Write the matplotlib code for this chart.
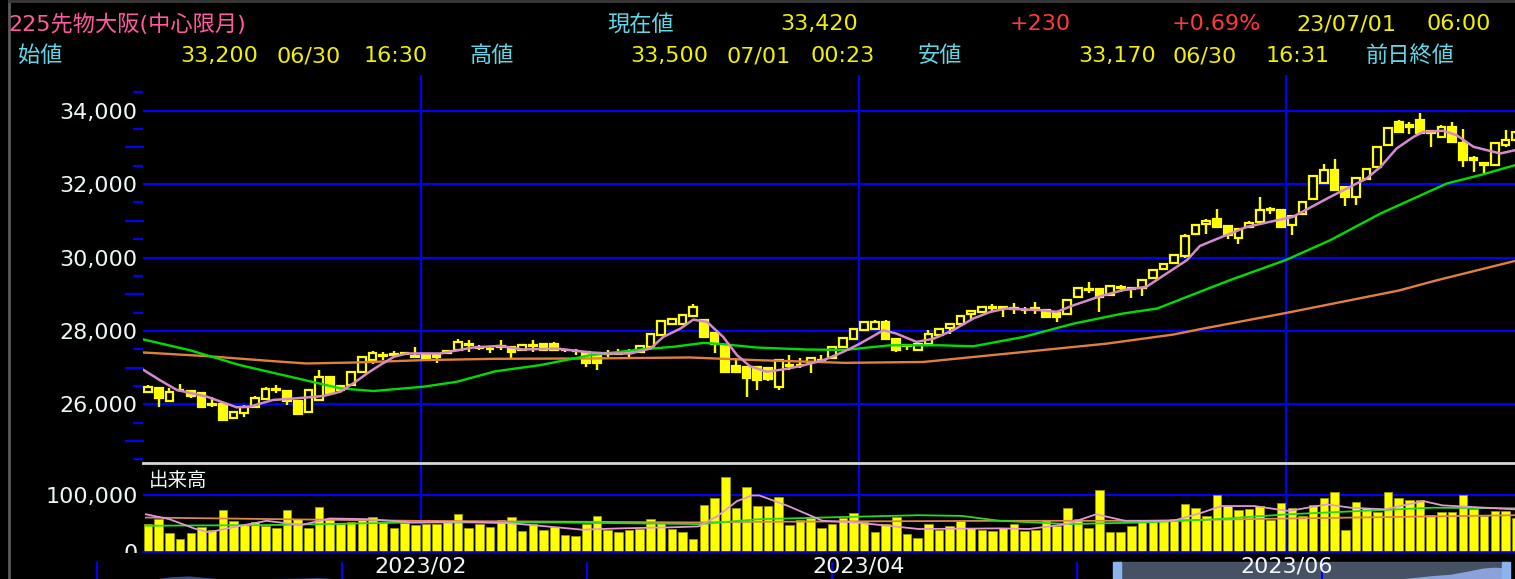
import matplotlib
matplotlib.use("Agg")
import matplotlib.pyplot as plt
import numpy as np
from matplotlib.patches import Rectangle
from matplotlib.ticker import FuncFormatter, MultipleLocator
from matplotlib.transforms import blended_transform_factory

plt.rcParams["font.family"] = ["DejaVu Sans", "Noto Sans CJK JP"]

# daily candles, 2022/12/20 .. 2023/06/30 (bar index 0..128)
opens = [26335, 26434, 26100, 26380, 26362, 26300, 26000, 26000, 25640, 25756,
         25918, 26145, 26400, 26362, 26090, 25783, 26118, 26733, 26510, 26525,
         26887, 27204, 27320, 27350, 27370, 27300, 27380, 27300, 27385, 27475,
         27620, 27560, 27500, 27570, 27570, 27475, 27600, 27650, 27650, 27490,
         27450, 27430, 27385, 27370, 27380, 27400, 27430, 27566, 27880, 28200,
         28200, 28400, 28308, 27946, 27611, 27040, 27022, 27022, 27000, 26480,
         27050, 27060, 27160, 27180, 27250, 27566, 27790, 28018, 28064, 28246,
         27790, 27620, 27490, 27654, 27880, 28090, 28180, 28455, 28520, 28630,
         28620, 28600, 28570, 28600, 28583, 28475, 28455, 28930, 29120, 29130,
         28975, 29170, 29150, 29157, 29430, 29685, 29840, 30040, 30654, 30909,
         31063, 30854, 30545, 30836, 30973, 31300, 31309, 30882, 31200, 31582,
         32018, 32382, 31909, 31654, 32127, 32472, 33063, 33700, 33563, 33745,
         33454, 33290, 33563, 33127, 32650, 32590, 32518, 33060, 33200]
highs = [26525, 26480, 26434, 26543, 26390, 26340, 26210, 26020, 25820, 25980,
         26230, 26460, 26520, 26390, 26100, 26400, 26932, 26750, 26530, 26900,
         27300, 27450, 27420, 27450, 27420, 27550, 27400, 27400, 27460, 27790,
         27750, 27610, 27570, 27750, 27590, 27640, 27750, 27680, 27700, 27520,
         27520, 27450, 27400, 27475, 27520, 27520, 27600, 27950, 28290, 28360,
         28450, 28724, 28335, 27970, 27630, 27250, 27050, 27040, 27020, 27230,
         27340, 27250, 27270, 27340, 27590, 27830, 28090, 28270, 28290, 28290,
         27810, 27654, 27680, 28036, 28090, 28200, 28430, 28583, 28680, 28720,
         28656, 28765, 28656, 28790, 28600, 28490, 28880, 29180, 29340, 29150,
         29250, 29250, 29200, 29400, 29680, 29840, 30090, 30650, 30900, 31060,
         31336, 30880, 30800, 31000, 31654, 31380, 31330, 31150, 31540, 32240,
         32545, 32672, 31930, 32200, 32420, 33040, 33540, 33745, 33700, 33927,
         33480, 33600, 33700, 33490, 32760, 32610, 33130, 33470, 33500]
lows = [26300, 25918, 26080, 26340, 26163, 25918, 25937, 25560, 25600, 25660,
        25890, 26120, 26300, 25980, 25700, 25750, 26100, 26280, 26370, 26500,
        26860, 27110, 27200, 27300, 27330, 27250, 27200, 27130, 27360, 27450,
        27430, 27480, 27390, 27480, 27250, 27450, 27430, 27450, 27450, 27430,
        27340, 27020, 26930, 27294, 27340, 27290, 27400, 27540, 27860, 28180,
        28180, 28380, 27810, 27385, 26860, 26840, 26190, 26400, 26640, 26390,
        26930, 26980, 26840, 27160, 27230, 27540, 27770, 28000, 28040, 27770,
        27426, 27472, 27470, 27640, 27860, 27927, 28160, 28337, 28500, 28520,
        28383, 28473, 28473, 28473, 28340, 28246, 28430, 28900, 29020, 28520,
        28950, 29066, 28884, 28947, 29410, 29660, 29820, 30000, 30630, 30650,
        30800, 30500, 30380, 30800, 30950, 31200, 30800, 30609, 31180, 31560,
        32000, 31830, 31400, 31427, 32100, 32450, 33040, 33400, 33380, 33360,
        33018, 33270, 33130, 32472, 32336, 32290, 32500, 33000, 33170]
closes = [26460, 26163, 26344, 26400, 26226, 25937, 25980, 25575, 25800, 25937,
          26163, 26416, 26390, 26090, 25730, 26389, 26733, 26300, 26400, 26887,
          27294, 27385, 27340, 27360, 27390, 27320, 27260, 27330, 27440, 27700,
          27640, 27540, 27520, 27590, 27430, 27610, 27620, 27475, 27475, 27470,
          27460, 27113, 27113, 27390, 27400, 27420, 27580, 27928, 28270, 28335,
          28425, 28650, 27837, 27656, 26887, 26887, 26706, 26660, 26680, 27204,
          27080, 27080, 27250, 27200, 27566, 27800, 28064, 28246, 28246, 27790,
          27472, 27600, 27654, 27927, 28064, 28180, 28410, 28537, 28656, 28650,
          28640, 28620, 28560, 28620, 28383, 28383, 28856, 29157, 29140, 28930,
          29220, 29190, 29170, 29385, 29658, 29813, 30068, 30600, 30882, 31000,
          30836, 30609, 30790, 30945, 31290, 31336, 30836, 31127, 31518, 32218,
          32382, 31854, 31654, 32173, 32400, 33018, 33518, 33427, 33600, 33381,
          33381, 33563, 33154, 32654, 32700, 32518, 33109, 33190, 33420]
volumes = [49400, 58100, 33100, 23200, 33100, 44700, 38900, 73800, 55200, 47600,
           52300, 45300, 41800, 73800, 58100, 41800, 79600, 58100, 48800, 53500,
           58100, 62700, 53500, 43000, 50500, 47600, 49400, 49400, 53500, 66800,
           41800, 49400, 43600, 56900, 62700, 37200, 49400, 39500, 44700, 30200,
           29000, 49400, 63900, 39500, 34900, 39500, 40700, 58100, 52300, 40700,
           36000, 23200, 83100, 95900, 133600, 78400, 114500, 81300, 81300, 97000,
           47600, 56900, 59300, 43000, 48800, 59300, 69700, 52300, 36000, 49400,
           62200, 32000, 24400, 49400, 39500, 46500, 54600, 41800, 38900, 36600,
           41800, 49400, 37800, 39500, 56400, 45300, 78400, 58100, 43000, 110400,
           36000, 34900, 46500, 56400, 55200, 56400, 58100, 85400, 77900, 63900,
           100500, 81300, 74400, 75500, 81300, 55800, 87200, 78400, 63900, 82500,
           94700, 106300, 39500, 88300, 78400, 70900, 105700, 94700, 91800, 91200,
           65100, 70900, 70900, 100500, 76700, 63900, 72600, 72600, 61000]

# moving averages (bar position, value)
ma5_x = [-0.4, 1.1, 2.7, 5.5, 8.3, 9.5, 11.7, 13.9, 16.4, 18.0, 19.2, 20.5, 21.7,
         23.0, 24.2, 27.3, 30.4, 32.9, 35.1, 38.2, 41.4, 42.9, 45.1, 47.0, 48.2,
         49.8, 51.0, 52.3, 53.8, 55.1, 56.3, 57.9, 59.4, 61.0, 63.2, 64.5, 65.7,
         66.6, 68.8, 70.0, 71.9, 73.5, 75.3, 77.2, 78.8, 80.3, 83.5, 85.0, 86.6,
         89.1, 91.2, 93.4, 95.3, 97.2, 98.4, 99.7, 102.8, 107.1, 110.6, 114.0,
         115.3, 116.8, 118.4, 119.3, 121.2, 122.4, 124.0, 126.5, 127.9]
ma5_y = [26932, 26660, 26389, 26208, 25918, 25937, 26118, 26163, 26226, 26344,
         26570, 26842, 27068, 27294, 27385, 27385, 27548, 27590, 27493, 27520,
         27412, 27385, 27385, 27520, 27837, 28063, 28308, 28244, 27837, 27339,
         27040, 26887, 26950, 27040, 27204, 27360, 27520, 27654, 28018, 27927,
         27700, 27790, 28018, 28337, 28519, 28610, 28565, 28519, 28701, 28947,
         29111, 29202, 29567, 29931, 30314, 30473, 30836, 31109, 31654, 32154,
         32472, 32972, 33290, 33427, 33454, 33336, 33018, 32836, 32927]
ma25_x = [-0.4, 3.9, 8.6, 13.3, 18.0, 21.1, 25.8, 28.9, 32.5, 36.7, 41.4, 46.0,
          49.1, 52.0, 53.8, 56.9, 61.6, 65.2, 69.4, 74.1, 77.2, 81.9, 86.6, 91.2,
          94.4, 98.4, 101.2, 106.5, 110.6, 115.3, 121.5, 124.6, 127.9]
ma25_y = [27765, 27475, 27068, 26751, 26434, 26362, 26480, 26615, 26900, 27068,
          27339, 27493, 27566, 27674, 27638, 27548, 27493, 27483, 27608, 27608,
          27581, 27836, 28200, 28474, 28610, 29066, 29382, 29940, 30473, 31200,
          32018, 32245, 32518]
ma75_x = [-0.4, 5.5, 11.7, 14.8, 19.5, 25.8, 32.5, 41.4, 50.7, 56.9, 65.2, 72.5,
          77.2, 83.5, 89.7, 95.9, 98.4, 106.4, 117.0, 120.6, 127.9]
ma75_y = [27412, 27312, 27176, 27113, 27140, 27204, 27240, 27249, 27276, 27204,
          27130, 27153, 27289, 27472, 27654, 27900, 28046, 28486, 29100, 29382,
          29909]

vma5_x = [-0.2, 2.0, 4.3, 5.7, 7.9, 11.1, 14.3, 17.0, 20.6, 24.7, 29.3, 33.8,
          38.3, 40.6, 44.2, 48.8, 51.5, 53.3, 55.1, 56.5, 57.2, 59.9, 63.1, 66.2,
          72.1, 79.7, 82.4, 86.0, 88.7, 91.4, 95.9, 98.6, 100.4, 103.5, 106.7,
          110.3, 112.5, 115.7, 119.3, 121.1, 127.9]
vma5_y = [66800, 58100, 41800, 34900, 43600, 55200, 47600, 59300, 58100, 52300,
          53500, 51100, 43600, 39500, 41800, 43600, 45300, 63900, 90100, 100000,
          100000, 81300, 55200, 52300, 40700, 41800, 40700, 49400, 66800, 55200,
          55200, 69700, 81300, 81300, 72600, 84200, 78400, 75500, 90100, 82500,
          75500]
vma25_x = [-0.2, 11.1, 24.7, 38.3, 51.5, 57.2, 63.1, 72.1, 76.1, 79.7, 86.0,
           93.2, 99.9, 106.7, 113.4, 120.2, 127.9]
vma25_y = [46500, 47600, 52300, 52300, 49400, 58100, 61000, 65100, 63900, 55200,
           49400, 52300, 58100, 66800, 72600, 78400, 77300]
vma75_x = [-0.2, 24.7, 51.5, 57.2, 79.7, 93.2, 106.7, 127.9]
vma75_y = [61000, 55200, 52300, 53500, 55200, 55200, 59300, 65100]

# first bar of each labelled month
month_starts = [26, 67, 107]
month_labels = ["2023/02", "2023/04", "2023/06"]

# navigator: months since 2021/07/01
nav_x = [0.0, 1.0, 1.8, 2.2, 2.5, 2.9, 3.2, 3.5, 3.9, 4.3, 4.6, 4.9, 5.3, 6.0,
         9.0, 12.0, 15.0, 17.6, 19.0, 21.0, 22.3, 22.8, 23.1, 23.4, 23.6, 23.8,
         24.0]
nav_y = [28800, 27800, 29000, 30200, 30500, 29700, 28800, 29500, 29600, 29700,
         29900, 29500, 28500, 28400, 27000, 26500, 27500, 26400, 27500, 28000,
         29500, 30600, 31100, 32300, 33200, 33600, 33400]
nav_ticks = [1, 5, 9, 13, 17, 21]
nav_sel = (17.65, 24.0)

header_row1 = [("225先物大阪(中心限月)", 8, "#ff5aa0"), ("現在値", 607, "#5fd8e8"),
               ("33,420", 780, "#f0f000"), ("+230", 1010, "#ff3a3a"),
               ("+0.69%", 1172, "#ff3a3a"), ("23/07/01", 1296, "#f0f000"),
               ("06:00", 1426, "#f0f000")]
header_row2 = [("始値", 18, "#5fd8e8"), ("33,200", 180, "#f0f000"),
               ("06/30", 277, "#f0f000"), ("16:30", 364, "#f0f000"),
               ("高値", 470, "#5fd8e8"), ("33,500", 630, "#f0f000"),
               ("07/01", 727, "#f0f000"), ("00:23", 810, "#f0f000"),
               ("安値", 918, "#5fd8e8"), ("33,170", 1078, "#f0f000"),
               ("06/30", 1172, "#f0f000"), ("16:31", 1266, "#f0f000"),
               ("前日終値", 1366, "#5fd8e8")]

YEL = "#ffff00"
BLUE = "#0000ff"
TXT = "#eef8f8"
W, H = 1515, 579


def box(left, top, right, bottom):
    return [left / W, 1 - bottom / H, (right - left) / W, (bottom - top) / H]


fig = plt.figure(figsize=(W / 100, H / 100), dpi=100, facecolor="black")
ax = fig.add_axes(box(143, 75, 1515, 463))
axv = fig.add_axes(box(143, 463, 1515, 552))
axn = fig.add_axes(box(10, 553, 1515, 579))
for a in (ax, axv, axn):
    a.set_facecolor("black")
    for s in a.spines.values():
        s.set_visible(False)

o, hi, lo, c = map(np.array, (opens, highs, lows, closes))
idx = np.arange(len(c))
up = c >= o

# price panel
ax.vlines(idx, lo, hi, color=YEL, lw=1.7, zorder=3)
ax.bar(idx, np.maximum(np.abs(c - o), 15), bottom=np.minimum(o, c), width=0.72,
       color=np.where(up, "black", YEL), edgecolor=YEL, linewidth=1.6, zorder=4)
ax.plot(ma75_x, ma75_y, color="#e0803c", lw=1.7, zorder=5)
ax.plot(ma25_x, ma25_y, color="#00dd00", lw=1.7, zorder=5)
ax.plot(ma5_x, ma5_y, color="#d58ad0", lw=1.8, zorder=6)

ax.set_xlim(-0.47, 127.88)
ax.set_ylim(24400, 34975)
ax.set_xticks([])
ax.yaxis.set_major_locator(MultipleLocator(2000))
ax.yaxis.set_minor_locator(MultipleLocator(500))
ax.yaxis.set_major_formatter(FuncFormatter(lambda v, p: f"{v:,.0f}"))
ax.tick_params(axis="y", which="major", length=0, pad=4, labelsize=16,
               labelcolor=TXT)
ax.tick_params(axis="y", which="minor", length=7, width=1.5, color=BLUE)
ax.grid(axis="y", which="major", color=BLUE, lw=1.5, zorder=1)
ax.set_axisbelow(True)
for v in range(25000, 35000, 2000):
    ax.plot([-0.0124, 0], [v, v], color=BLUE, lw=1.5, clip_on=False,
            transform=ax.get_yaxis_transform())

# volume panel
axv.bar(idx, volumes, width=0.8, color=YEL, edgecolor="#9a9a00", linewidth=0.6,
        zorder=3)
axv.plot(vma75_x, vma75_y, color="#d88850", lw=1.3, zorder=4)
axv.plot(vma25_x, vma25_y, color="#22dd22", lw=1.3, zorder=4)
axv.plot(vma5_x, vma5_y, color="#e098d8", lw=1.3, zorder=5)
axv.set_xlim(ax.get_xlim())
axv.set_ylim(0, 157500)
axv.set_xticks([])
axv.set_yticks([0, 100000])
axv.yaxis.set_major_formatter(FuncFormatter(lambda v, p: f"{v:,.0f}"))
axv.tick_params(axis="y", length=0, pad=4, labelsize=16, labelcolor=TXT)
axv.grid(axis="y", color=BLUE, lw=1.5, zorder=1)
axv.set_axisbelow(True)
axv.axhline(0, color=BLUE, lw=1.2, zorder=5, clip_on=False)
axv.spines["top"].set_visible(True)
axv.spines["top"].set_color("#d8d8d8")
axv.spines["top"].set_linewidth(2)
axv.text(0.004, 0.80, "出来高", transform=axv.transAxes, color=TXT, fontsize=14,
         va="center", ha="left", zorder=6)

for m in month_starts:
    ax.axvline(m - 0.5, color=BLUE, lw=1.5, zorder=2)
    axv.axvline(m - 0.5, color=BLUE, lw=1.5, zorder=2)

# navigator strip
axn.set_xlim(-0.42, 24.15)
axn.set_ylim(29400, 38630)
axn.set_xticks([])
axn.set_yticks([])
axn.fill_between(nav_x, 0, nav_y, color="#34508a", lw=0, zorder=1)
sel = Rectangle((nav_sel[0], 0), nav_sel[1] - nav_sel[0], 0.65,
                transform=axn.get_xaxis_transform(), color="#4e5b70", alpha=0.9,
                zorder=2)
axn.add_patch(sel)
inner = axn.fill_between(nav_x, 0, nav_y, color="#8aa2d8", lw=0, zorder=3)
inner.set_clip_path(sel)
for e in nav_sel:
    axn.add_patch(Rectangle((e - 0.07, 0), 0.14, 0.65,
                            transform=axn.get_xaxis_transform(),
                            color="#8cb4ec", zorder=4))
axn.vlines(nav_ticks, 0, 0.65, transform=axn.get_xaxis_transform(), color=BLUE,
           lw=1.5, zorder=5)
lab_tr = blended_transform_factory(ax.transData, axn.transAxes)
for m, lab in zip(month_starts, month_labels):
    axn.text(m - 0.5, 0.5, lab, transform=lab_tr, ha="center", va="center",
             fontsize=16, color=TXT, zorder=6)

# header
for txt, x, col in header_row1:
    fig.text(x / W, 1 - 24 / H, txt, color=col, fontsize=16, va="center",
             ha="left")
for txt, x, col in header_row2:
    fig.text(x / W, 1 - 56 / H, txt, color=col, fontsize=16, va="center",
             ha="left")

# window frame
fig.add_artist(plt.Line2D([9 / W, 9 / W], [0, 1], color="#5a5a5a", lw=2))
fig.add_artist(plt.Line2D([9 / W, 1], [1 - 1 / H, 1 - 1 / H], color="#3a3a3a",
                          lw=2))

fig.savefig("out.png", dpi=100, facecolor="black")
